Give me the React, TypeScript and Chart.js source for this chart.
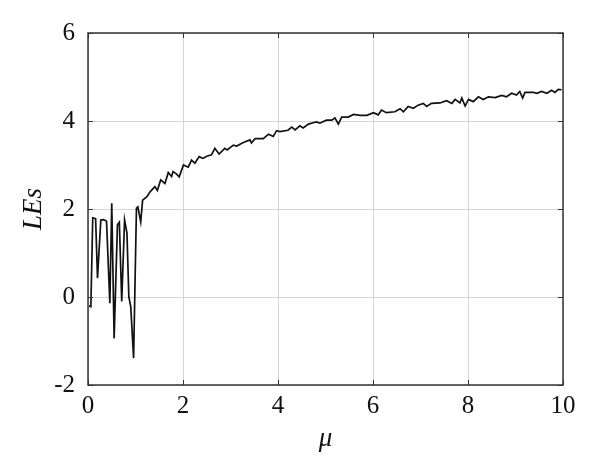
import React, { useEffect, useRef } from "react";
import { Chart, registerables } from "chart.js";

Chart.register(...registerables);

const muValues: number[] = [
  0.02, 0.06, 0.1, 0.16, 0.2, 0.27, 0.33, 0.39, 0.46, 0.5, 0.55, 0.62, 0.66, 0.71, 0.77, 0.82, 0.86, 0.9, 0.96,
  1.02, 1.05, 1.11, 1.15, 1.24, 1.3, 1.36, 1.41, 1.46, 1.53, 1.62, 1.69, 1.76, 1.79, 1.86, 1.92,
  2.01, 2.11, 2.18, 2.25, 2.34, 2.42, 2.5, 2.6, 2.67, 2.76, 2.88, 2.93,
  3.06, 3.13, 3.27, 3.41, 3.44, 3.52, 3.69, 3.8, 3.9, 3.97,
  4.04, 4.21, 4.29, 4.36, 4.46, 4.53, 4.64, 4.74, 4.81, 4.88,
  5.02, 5.13, 5.2, 5.27, 5.34, 5.48, 5.59, 5.73, 5.87,
  6.01, 6.11, 6.18, 6.28, 6.46, 6.57, 6.64, 6.74, 6.85, 6.95,
  7.06, 7.13, 7.23, 7.41, 7.55, 7.66, 7.73, 7.83, 7.87, 7.94,
  8.01, 8.11, 8.22, 8.32, 8.43, 8.57, 8.71, 8.81, 8.92,
  9.02, 9.09, 9.15, 9.2, 9.38, 9.45, 9.55, 9.66, 9.76, 9.83, 9.9, 9.97,
];

const lesValues: number[] = [
  -0.2, -0.22, 1.8, 1.78, 0.43, 1.75, 1.76, 1.72, -0.14, 2.13, -0.94, 1.64, 1.7, -0.1, 1.75, 1.45, 0.0, -0.22, -1.39,
  2.02, 2.05, 1.71, 2.2, 2.28, 2.38, 2.45, 2.51, 2.42, 2.66, 2.58, 2.83, 2.74, 2.85, 2.8, 2.73,
  3.0, 2.95, 3.11, 3.04, 3.19, 3.15, 3.2, 3.23, 3.38, 3.25, 3.38, 3.34,
  3.45, 3.43, 3.51, 3.57, 3.5, 3.6, 3.6, 3.7, 3.65, 3.78,
  3.76, 3.79, 3.86, 3.8, 3.89, 3.84, 3.93, 3.96, 3.98, 3.95,
  4.02, 4.02, 4.07, 3.93, 4.09, 4.09, 4.15, 4.13, 4.13,
  4.19, 4.14, 4.25, 4.19, 4.21, 4.28, 4.21, 4.33, 4.29, 4.36,
  4.4, 4.33, 4.4, 4.41, 4.46, 4.4, 4.49, 4.41, 4.52, 4.34,
  4.49, 4.44, 4.55, 4.49, 4.55, 4.53, 4.58, 4.55, 4.63,
  4.59, 4.67, 4.52, 4.65, 4.65, 4.63, 4.67, 4.63, 4.7, 4.65, 4.72, 4.71,
];

const xTicks: number[] = [0, 2, 4, 6, 8, 10];
const yTicks: number[] = [-2, 0, 2, 4, 6];

const FONT = "'Liberation Serif', 'DejaVu Serif', serif";

const framePlugin = {
  id: "frame",
  afterDraw(chart: any) {
    const { ctx, chartArea } = chart;
    const { left, right, top, bottom } = chartArea;
    const xs = chart.scales.x;
    const ys = chart.scales.y;
    ctx.save();
    ctx.strokeStyle = "#333";
    ctx.lineWidth = 1.5;
    ctx.strokeRect(left, top, right - left, bottom - top);
    ctx.lineWidth = 1;
    const t = 5;
    ctx.beginPath();
    for (const v of xTicks) {
      const px = Math.round(xs.getPixelForValue(v)) + 0.5;
      ctx.moveTo(px, bottom);
      ctx.lineTo(px, bottom - t);
      ctx.moveTo(px, top);
      ctx.lineTo(px, top + t);
    }
    for (const v of yTicks) {
      const py = Math.round(ys.getPixelForValue(v)) + 0.5;
      ctx.moveTo(left, py);
      ctx.lineTo(left + t, py);
      ctx.moveTo(right, py);
      ctx.lineTo(right - t, py);
    }
    ctx.stroke();
    ctx.restore();
  },
};

export default function App() {
  const ref = useRef<HTMLCanvasElement | null>(null);

  useEffect(() => {
    document.body.style.margin = "0";
    const canvas = ref.current;
    if (!canvas) return;
    const data = muValues.map((m, i) => ({ x: m, y: lesValues[i] }));
    const chart = new Chart(canvas, {
      type: "line",
      data: {
        datasets: [
          {
            data,
            borderColor: "#111",
            borderWidth: 1.7,
            pointRadius: 0,
            tension: 0,
            fill: false,
          },
        ],
      },
      options: {
        animation: false,
        responsive: false,
        maintainAspectRatio: false,
        layout: { padding: { left: 0, right: 37, top: 33, bottom: 0 } },
        plugins: { legend: { display: false }, tooltip: { enabled: false } },
        scales: {
          x: {
            type: "linear",
            min: 0,
            max: 10,
            afterBuildTicks: (s: any) => {
              s.ticks = xTicks.map((v) => ({ value: v }));
            },
            afterFit: (s: any) => {
              s.height = 90;
            },
            grid: { color: "#d4d4d4", lineWidth: 1, drawTicks: false },
            border: { display: false },
            ticks: {
              color: "#111",
              font: { family: FONT, size: 25 },
              padding: 6,
              maxRotation: 0,
            },
            title: {
              display: true,
              text: "μ",
              color: "#111",
              font: { family: FONT, size: 27, style: "italic" },
              padding: { top: 2, bottom: 20 },
            },
          },
          y: {
            type: "linear",
            min: -2,
            max: 6,
            afterBuildTicks: (s: any) => {
              s.ticks = yTicks.map((v) => ({ value: v }));
            },
            afterFit: (s: any) => {
              s.width = 88;
            },
            grid: { color: "#d4d4d4", lineWidth: 1, drawTicks: false },
            border: { display: false },
            ticks: {
              color: "#111",
              font: { family: FONT, size: 25 },
              padding: 13,
            },
            title: {
              display: true,
              text: "LEs",
              color: "#111",
              font: { family: FONT, size: 27, style: "italic" },
              padding: { top: 18, bottom: 0 },
            },
          },
        },
      },
      plugins: [framePlugin],
    });
    return () => chart.destroy();
  }, []);

  return (
    <div style={{ width: 600, height: 475, background: "#fff" }}>
      <canvas ref={ref} width={600} height={475} style={{ width: 600, height: 475, display: "block" }} />
    </div>
  );
}
